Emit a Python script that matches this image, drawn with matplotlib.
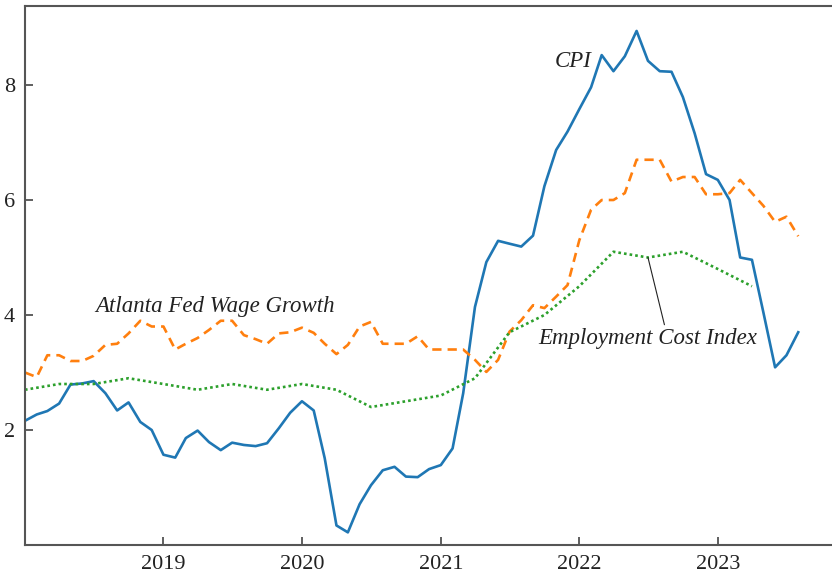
import pandas as pd
import matplotlib
matplotlib.use("Agg")
import matplotlib.pyplot as plt
import matplotlib.dates as mdates

# monthly series, Jan 2018 - Aug 2023
months = pd.date_range("2018-01-01", periods=68, freq="MS")
cpi = [2.16, 2.27, 2.33, 2.46, 2.79, 2.81, 2.85, 2.64, 2.34, 2.48, 2.14, 2.00,
       1.57, 1.52, 1.86, 1.99, 1.79, 1.65, 1.78, 1.74, 1.72, 1.77, 2.03, 2.30,
       2.50, 2.34, 1.51, 0.34, 0.22, 0.71, 1.04, 1.30, 1.36, 1.19, 1.18, 1.32,
       1.39, 1.68, 2.64, 4.14, 4.92, 5.29, 5.24, 5.19, 5.38, 6.24, 6.87, 7.19,
       7.58, 7.96, 8.52, 8.24, 8.50, 8.94, 8.42, 8.24, 8.23, 7.79, 7.16, 6.45,
       6.35, 6.00, 5.00, 4.96, 4.05, 3.09, 3.30, 3.70]
atl_wage = [3.00, 2.92, 3.30, 3.30, 3.20, 3.20, 3.29, 3.48, 3.50, 3.68, 3.90, 3.80,
            3.80, 3.40, 3.50, 3.60, 3.74, 3.90, 3.90, 3.65, 3.58, 3.50, 3.68, 3.70,
            3.78, 3.69, 3.50, 3.32, 3.48, 3.80, 3.88, 3.50, 3.50, 3.50, 3.63, 3.40,
            3.40, 3.40, 3.40, 3.22, 3.01, 3.22, 3.71, 3.91, 4.17, 4.12, 4.32, 4.52,
            5.30, 5.83, 6.00, 6.00, 6.12, 6.70, 6.70, 6.70, 6.32, 6.40, 6.40, 6.10,
            6.10, 6.12, 6.35, 6.12, 5.90, 5.62, 5.71, 5.37]

# quarterly series, 2018Q1 - 2023Q2
quarters = pd.date_range("2018-01-01", periods=22, freq="QS")
eci = [2.7, 2.8, 2.8, 2.9, 2.8, 2.7, 2.8, 2.7, 2.8, 2.7, 2.4, 2.5,
       2.6, 2.9, 3.7, 4.0, 4.5, 5.1, 5.0, 5.1, 4.8, 4.5]

plt.rcParams["font.family"] = ["Liberation Serif", "DejaVu Serif"]

fig = plt.figure(figsize=(8.32, 5.76), dpi=100)
ax = fig.add_axes([0.030, 0.0538, 0.970, 0.9358])

ax.plot(months, cpi, color="#1f77b4", lw=1.9)
ax.plot(months, atl_wage, color="#ff7f0e", lw=1.9, ls=(0, (3.5, 2.3)))
ax.plot(quarters, eci, color="#2ca02c", lw=1.9, ls=(0, (1, 1.15)))

ax.set_xlim(pd.Timestamp("2018-01-01"), pd.Timestamp("2023-10-29"))
ax.set_ylim(0, 9.374)
ax.set_yticks([2, 4, 6, 8])
ax.xaxis.set_major_formatter(mdates.DateFormatter("%Y"))
ax.set_xticks(pd.date_range("2019-01-01", periods=5, freq="YS"))

ax.tick_params(direction="in", length=6, width=1.2, labelsize=16,
               colors="#444", labelcolor="#222", pad=7)
ax.spines["right"].set_visible(False)
for s in ["left", "bottom", "top"]:
    ax.spines[s].set_color("#555")
    ax.spines[s].set_linewidth(1.5)

ax.text(pd.Timestamp("2022-02-02"), 8.4, "CPI", ha="right", va="center",
        fontsize=16.5, style="italic", color="#222")
ax.text(pd.Timestamp("2019-05-16"), 4.15, "Atlanta Fed Wage Growth",
        ha="center", va="center", fontsize=16.5, style="italic", color="#222")
ax.annotate("Employment Cost Index", xy=(pd.Timestamp("2022-07-01"), 5.0),
            xytext=(pd.Timestamp("2022-06-30"), 3.6), ha="center", va="center",
            fontsize=16.5, style="italic", color="#222",
            arrowprops=dict(arrowstyle="-", color="#222", lw=0.8,
                            relpos=(0.58, 1.0), shrinkA=0, shrinkB=0))

fig.savefig("out.png", dpi=100)
